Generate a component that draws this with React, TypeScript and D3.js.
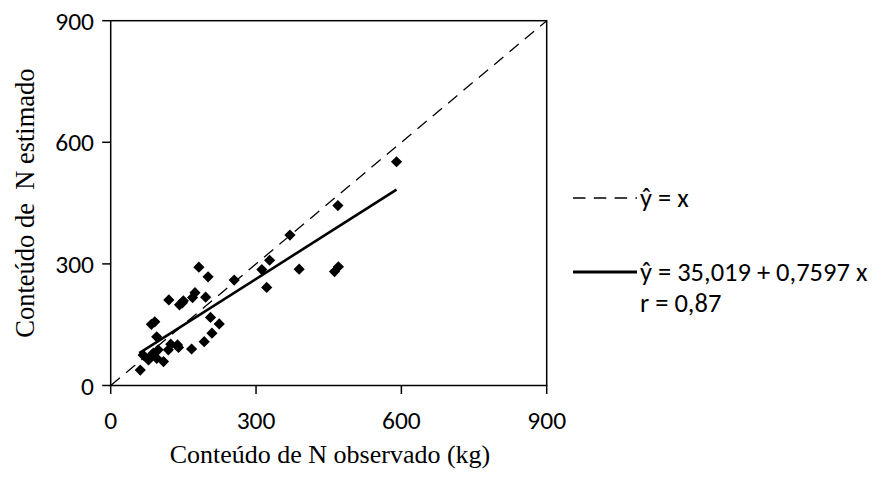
import * as d3 from "d3";
import React from "react";

const observed = [
  590, 469, 370, 328, 312, 322, 389, 462, 470, 182,
  201, 255, 120, 142, 148, 150, 169, 174, 196, 84,
  91, 206, 224, 209, 193, 167, 124, 138, 140, 119,
  95, 98, 61, 67, 78, 85, 95, 109, 88,
];
const estimated = [
  552, 444, 371, 309, 286, 242, 287, 281, 293, 292,
  268, 260, 211, 199, 204, 209, 217, 229, 218, 151,
  157, 168, 152, 129, 108, 90, 102, 100, 94, 88,
  120, 88, 38, 75, 63, 75, 67, 59, 80,
];
const ticks = [0, 300, 600, 900];
const intercept = 35.019;
const slope = 0.7597;
const legendLabels = ["ŷ = x", "ŷ = 35,019 + 0,7597 x", "r = 0,87"];

const W = 883;
const H = 479;
const left = 110.7, right = 546.7, top = 20.7, bottom = 385.5;

const x = d3.scaleLinear().domain([0, 900]).range([left, right]);
const y = d3.scaleLinear().domain([0, 900]).range([bottom, top]);

const sans = "Carlito, Calibri, Lato, sans-serif";
const serif = "'Liberation Serif', 'Times New Roman', serif";
const fs = 25.5;
const legendFs = 26.5;

// excel style diamond = square turned 45deg
const diamondType = (d3 as any).symbolDiamond2 || {
  draw(ctx: any, size: number) {
    const r = Math.sqrt(size) * 0.62625;
    ctx.moveTo(0, -r); ctx.lineTo(r, 0); ctx.lineTo(0, r); ctx.lineTo(-r, 0); ctx.closePath();
  },
};
const diamond = d3.symbol().type(diamondType).size(80)();

export default function App() {
  const pts = observed.map((o, i) => [o, estimated[i]] as [number, number]);
  const [xMin, xMax] = d3.extent(observed) as [number, number];
  const fit = d3.line<number>()
    .x((v) => x(v))
    .y((v) => y(intercept + slope * v))([xMin - 2, xMax]);
  const identity = d3.line<number>().x((v) => x(v)).y((v) => y(v))([0, 900]);

  return (
    <svg width={W} height={H} style={{ position: "fixed", left: 0, top: 0, background: "#fff" }}>
      {/* 1:1 line */}
      <path d={identity || ""} stroke="#000" strokeWidth={1.3} strokeDasharray="12,8" fill="none" />
      {/* fitted line */}
      <path d={fit || ""} stroke="#000" strokeWidth={2.6} fill="none" />

      {pts.map((p, i) => (
        <path key={i} d={diamond || ""} transform={`translate(${x(p[0])},${y(p[1])})`} fill="#000" />
      ))}

      {/* frame */}
      <rect x={left} y={top} width={right - left} height={bottom - top} fill="none" stroke="#000" strokeWidth={1.5} />

      {ticks.map((t) => (
        <g key={"x" + t}>
          <line x1={x(t)} x2={x(t)} y1={bottom} y2={bottom + 8.5} stroke="#000" strokeWidth={1.5} />
          <text x={x(t)} y={429} textAnchor="middle" fontFamily={sans} fontSize={fs}>{t}</text>
        </g>
      ))}
      {ticks.map((t) => (
        <g key={"y" + t}>
          <line x1={left - 8.5} x2={left} y1={y(t)} y2={y(t)} stroke="#000" strokeWidth={1.5} />
          <text x={94} y={y(t) + 9} textAnchor="end" fontFamily={sans} fontSize={fs}>{t}</text>
        </g>
      ))}

      <text x={330} y={463} textAnchor="middle" fontFamily={serif} fontSize={26}>
        Conteúdo de N observado (kg)
      </text>
      <text
        transform={`translate(34,${(top + bottom) / 2}) rotate(-90)`}
        textAnchor="middle"
        fontFamily={serif}
        fontSize={26.5}
        style={{ whiteSpace: "pre" }}
      >
        {"Conteúdo de  N estimado"}
      </text>

      {/* legend */}
      <line x1={573} x2={637} y1={198} y2={198} stroke="#000" strokeWidth={1.3} strokeDasharray="12.5,8.3" />
      <text x={640} y={207} fontFamily={sans} fontSize={legendFs}>{legendLabels[0]}</text>
      <line x1={573} x2={637} y1={272} y2={272} stroke="#000" strokeWidth={3} />
      <text x={640} y={281} fontFamily={sans} fontSize={legendFs}>{legendLabels[1]}</text>
      <text x={640} y={312} fontFamily={sans} fontSize={legendFs}>{legendLabels[2]}</text>
    </svg>
  );
}
